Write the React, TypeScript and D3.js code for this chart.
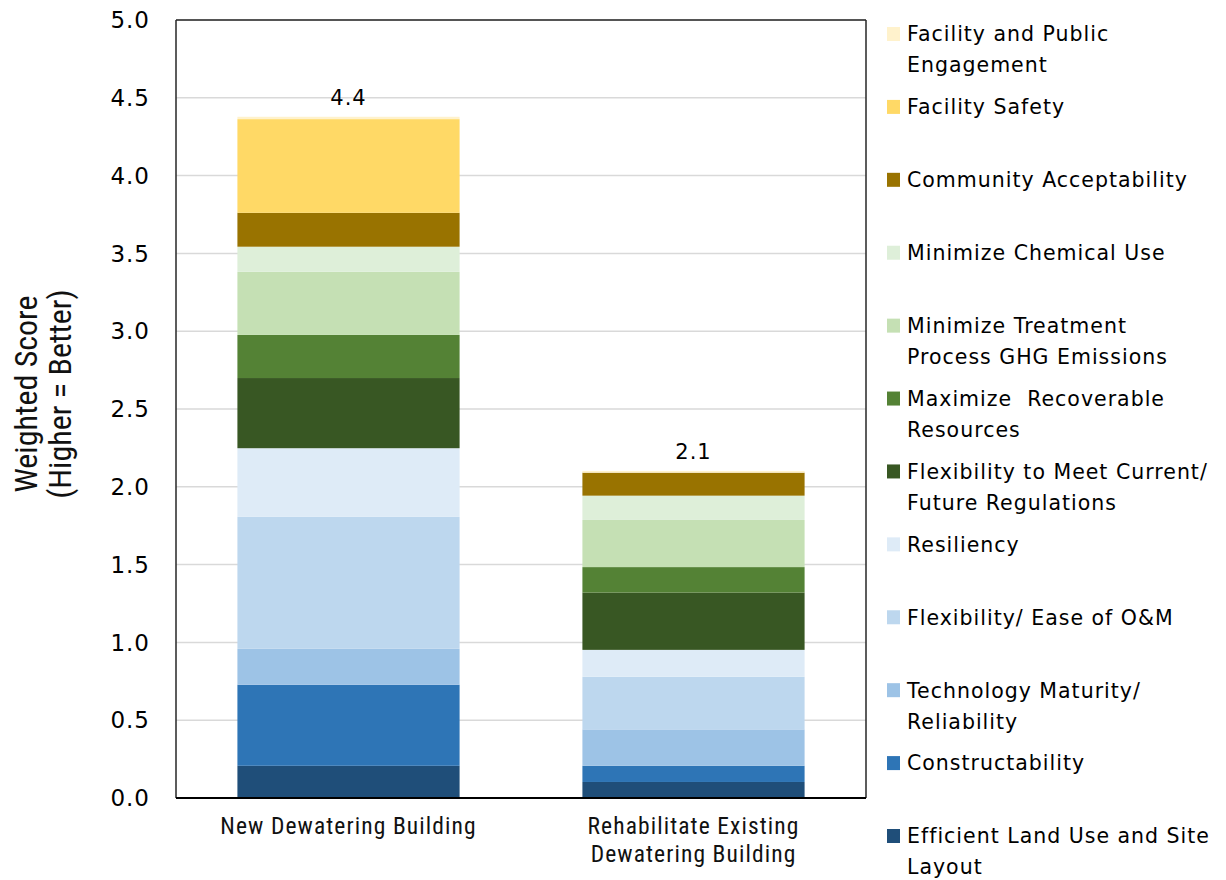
import React from "react";
import * as d3 from "d3";

const categories = ["New Dewatering Building", "Rehabilitate Existing Dewatering Building"];
const categoryLines = [["New Dewatering Building"], ["Rehabilitate Existing", "Dewatering Building"]];

const criteria = [
  "Efficient Land Use and Site Layout",
  "Constructability",
  "Technology Maturity/ Reliability",
  "Flexibility/ Ease of O&M",
  "Resiliency",
  "Flexibility to Meet Current/ Future Regulations",
  "Maximize  Recoverable Resources",
  "Minimize Treatment Process GHG Emissions",
  "Minimize Chemical Use",
  "Community Acceptability",
  "Facility Safety",
  "Facility and Public Engagement",
];

const legendLines = [
  ["Efficient Land Use and Site", "Layout"],
  ["Constructability"],
  ["Technology Maturity/", "Reliability"],
  ["Flexibility/ Ease of O&M"],
  ["Resiliency"],
  ["Flexibility to Meet Current/", "Future Regulations"],
  ["Maximize  Recoverable", "Resources"],
  ["Minimize Treatment", "Process GHG Emissions"],
  ["Minimize Chemical Use"],
  ["Community Acceptability"],
  ["Facility Safety"],
  ["Facility and Public", "Engagement"],
];

const colors = [
  "#1F4E79",
  "#2E75B6",
  "#9DC3E6",
  "#BDD7EE",
  "#DEEBF7",
  "#385723",
  "#548235",
  "#C5E0B4",
  "#DEEFD9",
  "#997300",
  "#FFD966",
  "#FFF2CC",
];

const newBuilding = [0.207, 0.521, 0.231, 0.848, 0.441, 0.451, 0.277, 0.406, 0.161, 0.218, 0.602, 0.015];
const rehabBuilding = [0.103, 0.104, 0.234, 0.338, 0.173, 0.368, 0.164, 0.303, 0.156, 0.148, 0.0, 0.011];
const seriesByCategory = [newBuilding, rehabBuilding];

const yTicks = [0, 0.5, 1, 1.5, 2, 2.5, 3, 3.5, 4, 4.5, 5];

const W = 1226;
const H = 880;
const plotLeft = 176;
const plotRight = 866;
const plotTop = 20;
const plotBottom = 798;

export default function App() {
  const x = d3.scaleBand<string>().domain(categories).range([plotLeft, plotRight]).paddingInner(0.356).paddingOuter(0.178);
  const y = d3.scaleLinear().domain([0, 5]).range([plotBottom, plotTop]);

  const rows = categories.map((c, i) => {
    const r: any = { category: c };
    criteria.forEach((k, j) => (r[k] = seriesByCategory[i][j]));
    return r;
  });
  const stacked = d3.stack<any>().keys(criteria)(rows);
  const totals = seriesByCategory.map((s) => d3.sum(s));

  const legendY = d3.scaleLinear().domain([0, 11]).range([34, 836]);
  const legendOrder = d3.range(criteria.length).reverse();

  const condensed = "'Liberation Sans Narrow', 'Arial Narrow', 'Roboto Condensed', sans-serif";
  const wide = "'DejaVu Sans', Verdana, sans-serif";

  return (
    <svg width={W} height={H} style={{ position: "absolute", left: 0, top: 0, background: "#fff" }}>
      {/* gridlines */}
      {yTicks.map((t) => (
        <line key={"g" + t} x1={plotLeft} x2={plotRight} y1={y(t)} y2={y(t)} stroke="#d9d9d9" strokeWidth={1.5} />
      ))}
      {/* bars */}
      {stacked.map((layer, li) => (
        <g key={layer.key} fill={colors[li]}>
          {layer.map((d, ci) => (
            <rect
              key={ci}
              x={x(categories[ci])}
              width={x.bandwidth()}
              y={y(d[1])}
              height={Math.max(0, y(d[0]) - y(d[1]))}
            />
          ))}
        </g>
      ))}
      {/* frame */}
      <line x1={plotLeft} x2={plotLeft} y1={plotTop} y2={plotBottom} stroke="#262626" strokeWidth={1.5} />
      <line x1={plotLeft} x2={plotRight} y1={plotTop} y2={plotTop} stroke="#262626" strokeWidth={1.5} />
      <line x1={plotRight} x2={plotRight} y1={plotTop} y2={plotBottom} stroke="#262626" strokeWidth={1.5} />
      <line x1={plotLeft} x2={plotRight} y1={plotBottom} y2={plotBottom} stroke="#000" strokeWidth={2} />
      {/* y tick labels */}
      {yTicks.map((t) => (
        <text key={"t" + t} x={150} y={y(t)} dy="0.36em" textAnchor="end" fontFamily={wide} fontSize={23} letterSpacing={1} fill="#000">
          {d3.format(".1f")(t)}
        </text>
      ))}
      {/* y axis title */}
      <g transform={`translate(0, 394) rotate(-90)`}>
        <text textAnchor="middle" fontFamily={condensed} fontSize={32} fontWeight={400} fill="#111">
          <tspan x={0} y={37}>Weighted Score</tspan>
          <tspan x={0} y={71}>(Higher = Better)</tspan>
        </text>
      </g>
      {/* total labels */}
      {categories.map((c, i) => (
        <text key={"tot" + i} x={x(c)! + x.bandwidth() / 2} y={y(totals[i]) - 12} textAnchor="middle" fontFamily={wide} fontSize={21} letterSpacing={1} fill="#000">
          {d3.format(".1f")(totals[i])}
        </text>
      ))}
      {/* x labels */}
      {categories.map((c, i) => (
        <text key={"x" + i} textAnchor="middle" fontFamily={condensed} fontSize={23.5} letterSpacing={1.1} fill="#111">
          {categoryLines[i].map((line, k) => (
            <tspan key={k} x={x(c)! + x.bandwidth() / 2} y={834 + k * 27.5}>
              {line}
            </tspan>
          ))}
        </text>
      ))}
      {/* legend */}
      {legendOrder.map((idx, pos) => {
        const cy = legendY(pos);
        return (
          <g key={"l" + idx}>
            <rect x={887} y={cy - 7} width={13} height={14} fill={colors[idx]} />
            <text fontFamily={wide} fontSize={20.5} letterSpacing={1} fill="#000">
              {legendLines[idx].map((line, k) => (
                <tspan key={k} x={907} y={cy + k * 31} dy="0.36em" style={{ whiteSpace: "pre" }}>
                  {line}
                </tspan>
              ))}
            </text>
          </g>
        );
      })}
    </svg>
  );
}
